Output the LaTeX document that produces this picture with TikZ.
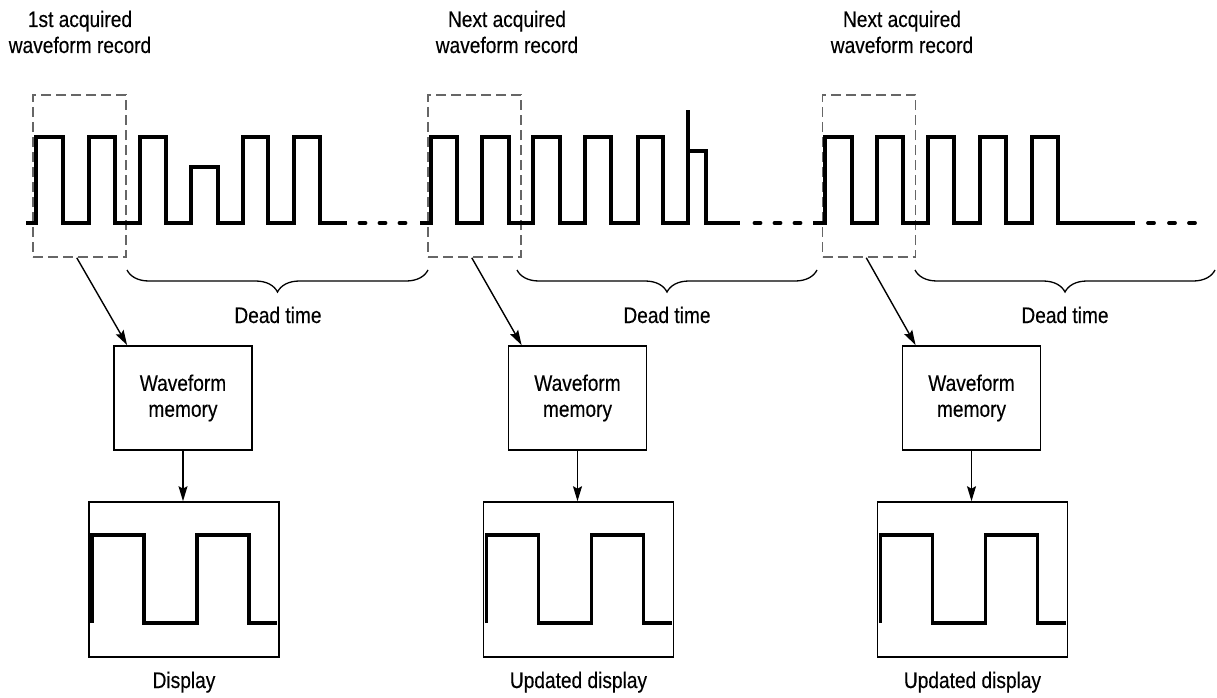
\documentclass[tikz,border=0pt]{standalone}
\usepackage{fontspec}
\setmainfont[FakeStretch=0.85,FakeBold=0.3]{Liberation Sans}
\usetikzlibrary{arrows.meta,decorations.pathreplacing,calc}
\newcommand{\lblfont}{\fontsize{22.5}{26}\selectfont}
\begin{document}
\begin{tikzpicture}[x=1pt,y=-1pt,
  wave/.style={line width=3.8pt, line join=miter},
  dotseg/.style={line width=3.8pt, line cap=round},
  recbox/.style={draw=black!60, line width=1.5pt, dash pattern=on 10pt off 5pt, minimum width=93, minimum height=162, inner sep=0pt},
  membox/.style={draw, line width=1.8pt, minimum width=138, minimum height=104, inner sep=0pt, align=center, font=\lblfont},
  dispbox/.style={draw, line width=1.6pt, minimum width=190, minimum height=155, inner sep=0pt},
  lbl/.style={font=\lblfont, align=center, inner sep=0pt},
  arr/.style={line width=1.4pt, -{Stealth[length=15pt,width=9pt,inset=2.5pt]}},
  brc/.style={decorate, decoration={brace, amplitude=22pt, mirror}, line width=1.3pt},
]
\useasboundingbox (0,0) rectangle (1217,698);

% titles
\node[lbl, anchor=base] (t1) at (80,53) {1st acquired\\waveform record};
\node[lbl, anchor=base] (t2) at (507,53) {Next acquired\\waveform record};
\node[lbl, anchor=base] (t3) at (902,53) {Next acquired\\waveform record};

% dashed record frames
\node[recbox] (rec1) at (79.5,176) {};
\node[recbox] (rec2) at (474.5,176) {};
\node[recbox] (rec3) at (869,176) {};

% waveform 1
\draw[wave] (26,223) -- (36,223) -- (36,137) -- (63,137) -- (63,223) -- (89,223) -- (89,137) -- (115,137) -- (115,223) -- (140,223) -- (140,137) -- (166,137) -- (166,223) -- (191,223) -- (191,167) -- (218,167) -- (218,223) -- (243,223) -- (243,137) -- (268,137) -- (268,223) -- (294,223) -- (294,137) -- (320,137) -- (320,223) -- (347,223);
\foreach \c in {362.5,382.5,402.5} \draw[dotseg] (\c-3,223) -- (\c+3,223);

% waveform 2
\draw[wave] (420,223) -- (431,223) -- (431,137) -- (457,137) -- (457,223) -- (482,223) -- (482,137) -- (509,137) -- (509,223) -- (533,223) -- (533,137) -- (560,137) -- (560,223) -- (585,223) -- (585,137) -- (611,137) -- (611,223) -- (638,223) -- (638,137) -- (663,137) -- (663,223) -- (688,223) -- (688,110);
\draw[wave] (688,151) -- (706,151) -- (706,223) -- (740,223);
\foreach \c in {757.5,777.5,797.5} \draw[dotseg] (\c-3,223) -- (\c+3,223);

% waveform 3
\draw[wave] (813,223) -- (825,223) -- (825,137) -- (852,137) -- (852,223) -- (877,223) -- (877,137) -- (903,137) -- (903,223) -- (928,223) -- (928,137) -- (954,137) -- (954,223) -- (980,223) -- (980,137) -- (1006,137) -- (1006,223) -- (1032,223) -- (1032,137) -- (1058,137) -- (1058,223) -- (1135,223);
\foreach \c in {1151,1172,1192} \draw[dotseg] (\c-3,223) -- (\c+3,223);

% braces and dead time labels
\coordinate (b1a) at (127,270); \coordinate (b1b) at (428,270);
\coordinate (b2a) at (517,270); \coordinate (b2b) at (817,270);
\coordinate (b3a) at (915,270); \coordinate (b3b) at (1215,270);
\draw[brc] (b1a) -- (b1b);
\draw[brc] (b2a) -- (b2b);
\draw[brc] (b3a) -- (b3b);
\node[lbl, anchor=base] (d1) at (278,323) {Dead time};
\node[lbl, anchor=base] (d2) at (667,323) {Dead time};
\node[lbl, anchor=base] (d3) at (1065,323) {Dead time};

% memory and display per panel
\foreach \i/\cx/\lab in {1/183/Display, 2/577.5/Updated display, 3/971.5/Updated display}{
  \node[membox] (mem\i) at (\cx,398) {Waveform\\memory};
  \node[dispbox] (disp\i) at (\cx+1,579.5) {};
  \draw[arr] ($(rec\i.south west)+(44.5,0)$) -- ($(mem\i.north west)+(14,0)$);
  \draw[arr] (mem\i.south) -- (mem\i.south |- disp\i.north);
  \draw[wave] ($(disp\i.center)+(-92,43.5)$) -- ++(0,-88) -- ++(52,0) -- ++(0,88) -- ++(53,0) -- ++(0,-88) -- ++(52,0) -- ++(0,88) -- ++(28,0);
  \node[lbl, anchor=base] (lab\i) at (\cx+1,688) {\lab};
}
\end{tikzpicture}
\end{document}
